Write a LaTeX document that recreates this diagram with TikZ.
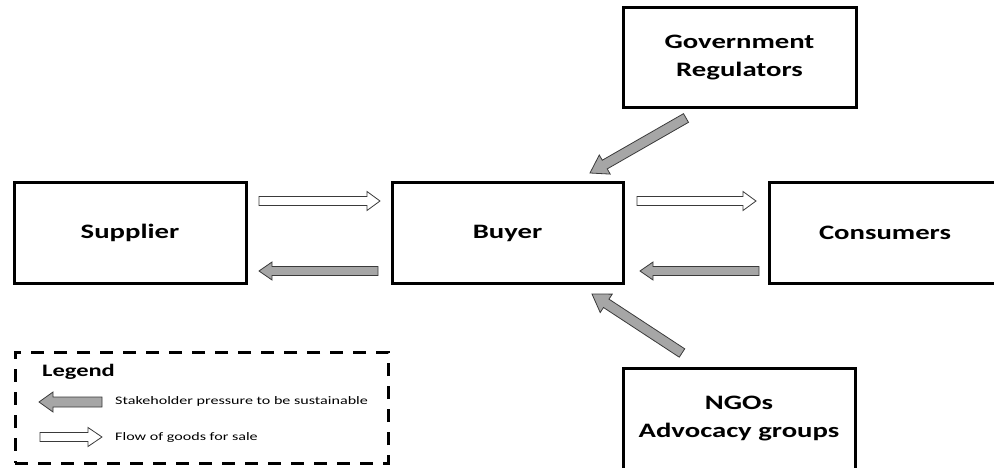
\documentclass[tikz,border=0pt]{standalone}
\usepackage{fontspec}
\setmainfont{Carlito}[FakeStretch=1.4]
\usetikzlibrary{calc}
\definecolor{arrowgray}{HTML}{A6A6A6}
\definecolor{edgegray}{HTML}{3A3A3A}
\tikzset{
  box/.style={draw=black, line width=3pt, fill=white, inner sep=0pt, align=center,
    font=\bfseries\fontsize{20.5}{28}\selectfont},
  pressure/.style={fill=arrowgray, draw=edgegray, line width=0.8pt, line join=miter},
  goods/.style={fill=white, draw=edgegray, line width=0.8pt, line join=miter},
  legendbox/.style={draw=black, line width=3pt, dash pattern=on 13pt off 10pt, inner sep=0pt},
  legendtitle/.style={anchor=west, inner sep=0pt, font=\bfseries\fontsize{17.5}{20}\selectfont},
  legendtext/.style={anchor=west, inner sep=0pt, font=\fontsize{11.5}{14}\selectfont},
}
% #1 style, #2 start, #3 tip, #4 shaft half width, #5 head half width, #6 head length
\newcommand\blockarrow[6]{%
  \coordinate (tmpH) at ($(#3)!#6!(#2)$);
  \draw[#1] ($(#2)!#4!90:(#3)$) -- ($(tmpH)!#4!-90:(#2)$) -- ($(tmpH)!#5!-90:(#2)$)
    -- (#3) -- ($(tmpH)!#5!90:(#2)$) -- ($(tmpH)!#4!90:(#2)$) -- ($(#2)!#4!-90:(#3)$) -- cycle;
}
\begin{document}
\begin{tikzpicture}[x=1pt,y=-1pt]
\useasboundingbox (0,0) rectangle (994,468);
\clip (0,0) rectangle (994,468);

% boxes
\node[box, minimum width=232pt, minimum height=100pt] (supplier) at (130,233) {Supplier};
\node[box, minimum width=231pt, minimum height=100pt] (buyer) at (507.5,233) {Buyer};
\node[box, minimum width=232pt, minimum height=100pt] (consumers) at (885,233) {Consumers};
\node[box, minimum width=233pt, minimum height=100pt] (gov) at (739.5,58) {Government\\Regulators};
\node[box, minimum width=232pt, minimum height=102pt] (ngo) at (739,419) {NGOs\\Advocacy groups};

% arrow end points
\coordinate (sbS) at (259,201);  \coordinate (sbE) at (380,201);
\coordinate (bsS) at (378,271);  \coordinate (bsE) at (259,271);
\coordinate (bcS) at (637,201);  \coordinate (bcE) at (756,201);
\coordinate (cbS) at (759,271);  \coordinate (cbE) at (640,271);
\coordinate (gbS) at (686,118);  \coordinate (gbE) at (590,173);
\coordinate (nbS) at (682,353);  \coordinate (nbE) at (592,294);

\blockarrow{goods}{sbS}{sbE}{4.5pt}{9.5pt}{13pt}
\blockarrow{pressure}{bsS}{bsE}{4.5pt}{9pt}{13pt}
\blockarrow{goods}{bcS}{bcE}{4.5pt}{9.5pt}{13pt}
\blockarrow{pressure}{cbS}{cbE}{4.5pt}{9pt}{13pt}
\blockarrow{pressure}{gbS}{gbE}{5pt}{11pt}{17pt}
\blockarrow{pressure}{nbS}{nbE}{5pt}{11pt}{17pt}

% legend
\node[legendbox, minimum width=373pt, minimum height=111pt] (legend) at (201.5,407.5) {};
\node[legendtitle] (legtitle) at (42,372) {Legend};
\coordinate (lpS) at (102,402); \coordinate (lpE) at (39,402);
\coordinate (lgS) at (40,437);  \coordinate (lgE) at (102,437);
\blockarrow{pressure}{lpS}{lpE}{5pt}{10pt}{14pt}
\blockarrow{goods}{lgS}{lgE}{4.5pt}{9.5pt}{14pt}
\node[legendtext] (legp) at (115,401) {Stakeholder pressure to be sustainable};
\node[legendtext] (legg) at (115,437) {Flow of goods for sale};
\end{tikzpicture}
\end{document}
